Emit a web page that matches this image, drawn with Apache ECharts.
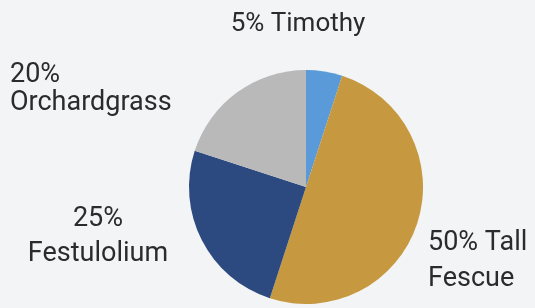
<!DOCTYPE html>
<html>
<head>
<meta charset="utf-8">
<script src="https://cdn.jsdelivr.net/npm/echarts@6/dist/echarts.min.js"></script>
<style>
  html, body { margin: 0; padding: 0; background: #f3f4f6; }
  #main { width: 535px; height: 308px; }
</style>
</head>
<body>
<div id="main"></div>
<script>
// grass mix shares, clockwise from the top
var names = ['Timothy', 'Tall Fescue', 'Festulolium', 'Orchardgrass']
var values = [5, 50, 25, 20]
var colors = ['#5b9ad8', '#c6983f', '#2c4a80', '#b9b9b9']

// label placement: x, block centre y, align, line height
var labelPos = [[298, 24, 'center', 30], [428, 261, 'left', 36], [98, 237, 'center', 35], [10, 89, 'left', 28]]
var labelText = function (i) {
  var v = values[i] + '%'
  if (i === 0) return v + ' ' + names[i]
  if (i === 1) return v + ' Tall\nFescue'
  return v + '\n' + names[i]
}

var myChart = echarts.init(document.getElementById('main'))
var option = {
  backgroundColor: '#f3f4f6',
  animation: false,
  series: [{
    type: 'pie',
    center: [306, 187],
    radius: 117,
    startAngle: 90,
    clockwise: true,
    silent: true,
    data: names.map(function (n, i) {
      return {
        name: n,
        value: values[i],
        itemStyle: { color: colors[i] },
        label: { lineHeight: labelPos[i][3], fontSize: i === 0 ? 26 : 27 }
      }
    }),
    label: {
      show: true,
      position: 'outside',
      overflow: 'none',
      fontFamily: 'Roboto',
      fontSize: 27,
      color: '#2b2b2b',
      formatter: function (p) { return labelText(p.dataIndex) }
    },
    labelLine: { show: false },
    labelLayout: function (p) {
      var pos = labelPos[p.dataIndex]
      return { x: pos[0], y: pos[1], align: pos[2], verticalAlign: 'middle', hideOverlap: false }
    }
  }]
}
myChart.setOption(option)
</script>
</body>
</html>
